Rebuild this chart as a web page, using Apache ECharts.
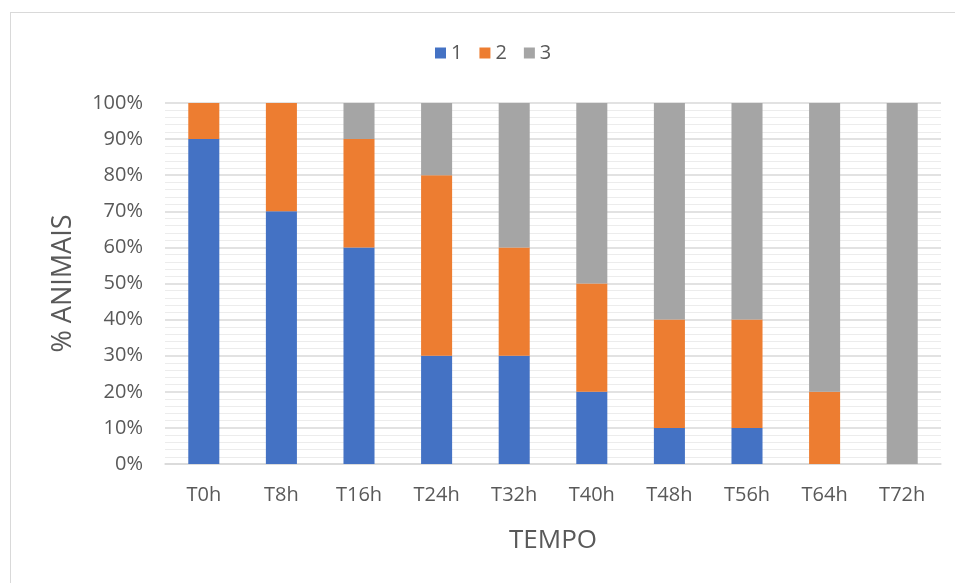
<!DOCTYPE html>
<html><head><meta charset="utf-8">
<script src="https://cdn.jsdelivr.net/npm/echarts@6/dist/echarts.min.js"></script>
<style>html,body{margin:0;padding:0;background:#fff}#c{width:955px;height:583px}
#frame{position:absolute;left:10px;top:12px;width:960px;height:580px;border:1.5px solid #d9d9d9;pointer-events:none}</style>
</head><body><div id="c"></div><div id="frame"></div>
<script>
const categories = ['T0h','T8h','T16h','T24h','T32h','T40h','T48h','T56h','T64h','T72h'];
const series1 = [90,70,60,30,30,20,10,10,0,0];
const series2 = [10,30,30,50,30,30,30,30,20,0];
const series3 = [0,0,10,20,40,50,60,60,80,100];
const seriesNames = ['1','2','3'];
const yTicks = [0,10,20,30,40,50,60,70,80,90,100];
const colors = ['#4472C4','#ED7D31','#A5A5A5'];
const chart = echarts.init(document.getElementById('c'));
const font = 'Open Sans';
chart.setOption({
  animation:false,
  textStyle:{fontFamily:font},
  legend:{top:38,left:430,itemWidth:11,itemHeight:11,itemGap:17,
    icon:'rect',textStyle:{fontSize:20,color:'#595959',fontFamily:font},data:seriesNames},
  grid:{left:165,right:14,top:103,bottom:119,containLabel:false},
  xAxis:{type:'category',data:categories,
    axisLine:{lineStyle:{color:'#d9d9d9',width:1.5}},axisTick:{show:false},
    axisLabel:{fontSize:20,color:'#595959',margin:21,fontFamily:font},
    name:'TEMPO',nameLocation:'middle',nameGap:64,
    nameTextStyle:{fontSize:26,color:'#595959',fontFamily:font}},
  yAxis:{type:'value',min:0,max:100,interval:10,
    axisLabel:{fontSize:20,color:'#595959',margin:22,fontFamily:font,
      formatter:v=>yTicks.includes(v)?v+'%':''},
    axisLine:{show:false},axisTick:{show:false},
    splitLine:{lineStyle:{color:'#d9d9d9',width:1.5}},
    minorTick:{show:false,splitNumber:5},
    minorSplitLine:{show:true,lineStyle:{color:'#ececec',width:1}},
    name:'% ANIMAIS',nameLocation:'middle',nameGap:88,nameRotate:90,
    nameTextStyle:{fontSize:27,color:'#595959',fontFamily:font}},
  series:[series1,series2,series3].map((d,i)=>({
    name:seriesNames[i],type:'bar',stack:'t',data:d,barWidth:'40%',
    itemStyle:{color:colors[i]}}))
});
</script></body></html>
